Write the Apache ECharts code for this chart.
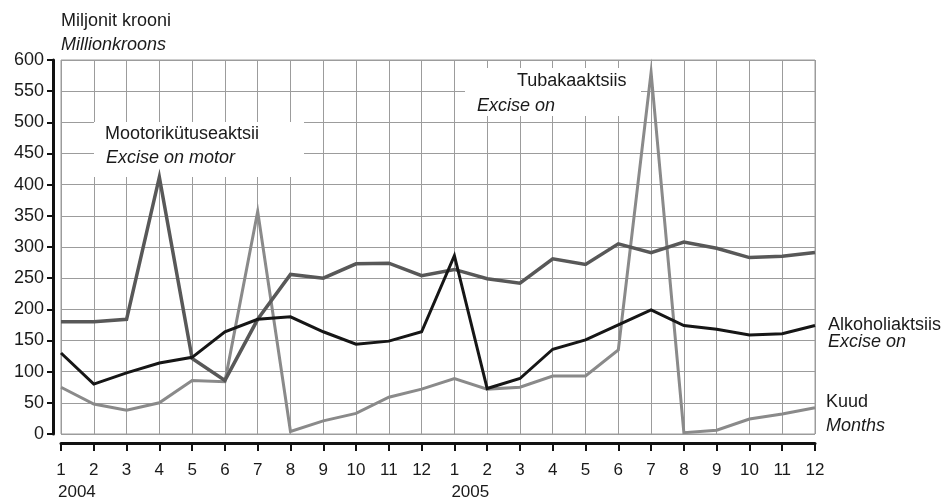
<!DOCTYPE html>
<html>
<head>
<meta charset="utf-8">
<script src="https://cdn.jsdelivr.net/npm/echarts@6/dist/echarts.min.js"></script>
<style>
  html, body { margin: 0; padding: 0; background: #fff; }
  #chart { width: 947px; height: 499px; }
</style>
</head>
<body>
<div id="chart"></div>
<script>
const months = ['1', '2', '3', '4', '5', '6', '7', '8', '9', '10', '11', '12',
  '1', '2', '3', '4', '5', '6', '7', '8', '9', '10', '11', '12'];
const years = [{ index: 0, label: '2004' }, { index: 12, label: '2005' }];

// Miljonit krooni
const tobacco = [75, 48, 38, 50, 86, 84, 357, 4, 21, 33, 59, 72,
  89, 72, 75, 93, 93, 135, 580, 2, 6, 24, 32, 42];
const motorFuel = [180, 180, 184, 412, 121, 86, 184, 256, 250, 273, 274, 254,
  264, 249, 242, 281, 272, 305, 291, 308, 298, 283, 285, 291];
const alcohol = [130, 80, 98, 114, 123, 164, 184, 188, 164, 144, 149, 164,
  286, 73, 89, 136, 151, 175, 199, 174, 168, 159, 161, 174];

const FONT = '"Liberation Sans", Arial, sans-serif';
const gridColor = '#9c9c9c';

const text = (left, top, str, opts = {}) => ({
  type: 'text',
  left,
  top,
  z: 100,
  style: {
    text: str,
    fill: '#1a1a1a',
    font: `${opts.italic ? 'italic ' : ''}18px ${FONT}`,
  },
});

const box = (x, y, width, height) => ({
  type: 'rect',
  z: 1,
  shape: { x, y, width, height },
  style: { fill: '#fff' },
});

const chart = echarts.init(document.getElementById('chart'));

const lineSeries = (name, data, color, width) => ({
  name,
  type: 'line',
  data,
  showSymbol: false,
  symbol: 'none',
  lineStyle: { color, width, join: 'miter' },
  z: 3,
});

chart.setOption({
  animation: false,
  backgroundColor: '#fff',
  textStyle: { fontFamily: FONT },
  grid: {
    left: 61,
    right: 132,
    top: 60,
    bottom: 65,
    show: true,
    borderColor: gridColor,
    borderWidth: 1,
  },
  xAxis: {
    type: 'category',
    data: months,
    boundaryGap: false,
    offset: 9,
    axisLine: { onZero: false, lineStyle: { color: '#111', width: 3 } },
    axisTick: { length: 8, lineStyle: { color: '#111', width: 2 } },
    axisLabel: { color: '#1a1a1a', fontSize: 17, margin: 19, interval: 0 },
    splitLine: { show: true, interval: 0, lineStyle: { color: gridColor, width: 1 } },
  },
  yAxis: {
    type: 'value',
    min: 0,
    max: 600,
    interval: 50,
    offset: 8,
    axisLine: { show: true, onZero: false, lineStyle: { color: '#111', width: 3 } },
    axisTick: { show: true, length: 6, lineStyle: { color: '#111', width: 2 } },
    axisLabel: { color: '#1a1a1a', fontSize: 18, margin: 9 },
    splitLine: { show: true, lineStyle: { color: gridColor, width: 1 } },
  },
  series: [
    lineSeries('Tubakaaktsiis', tobacco, '#8a8a8a', 3),
    lineSeries('Mootorikütuseaktsii', motorFuel, '#585858', 3.5),
    lineSeries('Alkoholiaktsiis', alcohol, '#161616', 3),
  ],
});

// year labels under the first month of each year
const yearLabels = years.map((y) => {
  const px = chart.convertToPixel({ xAxisIndex: 0 }, y.index);
  return {
    type: 'text',
    left: px - 3,
    top: 484,
    z: 100,
    style: { text: y.label, fill: '#1a1a1a', font: `17px ${FONT}` },
  };
});

chart.setOption({
  graphic: [
    text(61, 12, 'Miljonit krooni'),
    text(61, 36, 'Millionkroons', { italic: true }),
    box(94, 122, 210, 55),
    text(105, 125, 'Mootorikütuseaktsii'),
    text(106, 149, 'Excise on motor', { italic: true }),
    box(465, 68, 176, 48),
    text(517, 72, 'Tubakaaktsiis'),
    text(477, 97, 'Excise on', { italic: true }),
    text(828, 316, 'Alkoholiaktsiis'),
    text(828, 333, 'Excise on', { italic: true }),
    text(826, 393, 'Kuud'),
    text(826, 417, 'Months', { italic: true }),
    ...yearLabels,
  ],
});
</script>
</body>
</html>
